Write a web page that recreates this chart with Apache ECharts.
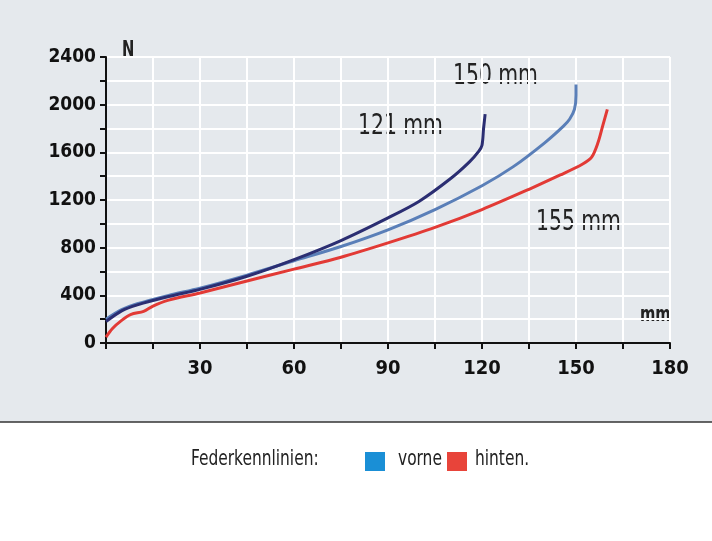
<!DOCTYPE html>
<html><head><meta charset="utf-8">
<script src="https://cdn.jsdelivr.net/npm/echarts@6/dist/echarts.min.js"></script>
<style>html,body{margin:0;padding:0;background:#fff}#c{width:712px;height:541px}</style>
</head><body><div id="c"></div>
<script>
const xTicks = [30, 60, 90, 120, 150, 180];
const yTicks = [0, 400, 800, 1200, 1600, 2000, 2400];
const s121 = [[0,180],[5,270],[10,320],[20,390],[30,450],[45,560],[60,700],[75,860],[90,1050],[100,1190],[110,1380],[116,1520],[119,1610],[120,1660],[120.5,1800],[121,1920]];
const s150 = [[0,200],[5,280],[10,330],[20,400],[30,460],[45,570],[60,690],[75,810],[90,950],[105,1120],[120,1320],[130,1480],[140,1680],[146,1820],[148,1880],[149.5,1960],[150,2080],[150,2170]];
const s155 = [[0,50],[2,120],[5,190],[8,240],[12,265],[15,310],[20,360],[30,420],[45,520],[60,620],[75,720],[90,840],[105,970],[120,1120],[135,1290],[145,1410],[152,1500],[155,1560],[157,1680],[158.5,1820],[160,1960]];
const chart = echarts.init(document.getElementById('c'));
const fnt = '"DejaVu Sans Condensed",sans-serif';
function T(x,y,text,size,weight){return {type:'text',x:x,y:y,scaleX:0.78,style:{text:text,font:(weight||'normal')+' '+size+'px '+fnt,fill:'#222'}};}
chart.setOption({
  animation:false,
  graphic:[
    {type:'rect',z:-10,shape:{x:0,y:0,width:712,height:422},style:{fill:'#e5e9ed'}},
    {type:'line',shape:{x1:0,y1:422,x2:712,y2:422},style:{stroke:'#333',lineWidth:1.5}},
    T(191,448,'Federkennlinien:',22),
    {type:'rect',shape:{x:365,y:452,width:20,height:19},style:{fill:'#1a8fd6'}},
    T(398,448,'vorne',22),
    {type:'rect',shape:{x:447,y:452,width:20,height:19},style:{fill:'#e8443a'}},
    T(475,448,'hinten.',22),
    T(122,40,'N',21,'bold'),
    T(640,305,'mm',21,'bold'),
    T(358,112,'121 mm',29),
    T(453,62,'150 mm',29),
    T(536,208,'155 mm',29)
  ],
  grid:{left:106,right:42,top:57,bottom:198},
  xAxis:{type:'value',min:0,max:180,interval:15,
    axisLine:{lineStyle:{color:'#111',width:2}},
    axisTick:{show:true,length:6,lineStyle:{color:'#111',width:2}},
    axisLabel:{formatter:v=>xTicks.includes(v)?String(v):'',fontFamily:fnt,fontWeight:'bold',fontSize:20,color:'#111',margin:16},
    splitLine:{show:true,lineStyle:{color:'#fff',width:2}}},
  yAxis:{type:'value',min:0,max:2400,interval:200,
    axisLine:{show:true,lineStyle:{color:'#111',width:2}},
    axisTick:{show:true,length:6,lineStyle:{color:'#111',width:2}},
    axisLabel:{formatter:v=>yTicks.includes(v)?String(v):'',fontFamily:fnt,fontWeight:'bold',fontSize:19,color:'#111',margin:10},
    splitLine:{show:true,lineStyle:{color:'#fff',width:2}}},
  series:[
    {name:'155 mm',type:'line',data:s155,showSymbol:false,smooth:0.3,lineStyle:{color:'#e23a35',width:3}},
    {name:'150 mm',type:'line',data:s150,showSymbol:false,smooth:0.3,lineStyle:{color:'#5a7fb8',width:3}},
    {name:'121 mm',type:'line',data:s121,showSymbol:false,smooth:0.3,lineStyle:{color:'#2b2e72',width:3}}
  ]
});
</script></body></html>
